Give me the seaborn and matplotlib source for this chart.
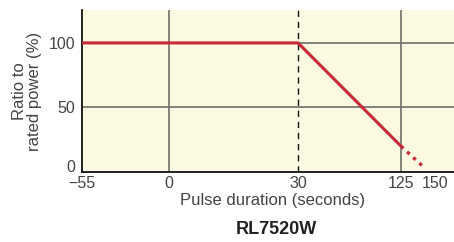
import matplotlib
matplotlib.use("Agg")
import matplotlib.pyplot as plt
import seaborn as sns
import numpy as np
import pandas as pd

# data
pulse = [-55, 30, 125]
ratio = [100, 100, 20]
pulse_ext = [125, 143]
ratio_ext = [20, 2.5]
xticks = [-55, 0, 30, 125, 150]
xticklabels = ['\u221255', '0', '30', '125', '150']
yticks = [0, 50, 100]

# non-linear x axis: tick values and where they sit on the axis
tick_pos = [0, 87, 216, 319, 353, 372]
tick_val = [-55, 0, 30, 125, 150, 164]

sns.set_style("white")
plt.rcParams['font.family'] = ['Liberation Sans', 'DejaVu Sans']

fig = plt.figure(figsize=(4.54, 2.42), dpi=100)
ax = fig.add_axes([82/454, 1 - 172/242, 372/454, 162/242])
ax.set_xscale('function', functions=(lambda x: np.interp(x, tick_val, tick_pos),
                                     lambda p: np.interp(p, tick_pos, tick_val)))
ax.set_facecolor('#FBF9E2')

df = pd.DataFrame({'pulse': pulse, 'ratio': ratio})
df_ext = pd.DataFrame({'pulse': pulse_ext, 'ratio': ratio_ext})

# grid
for v in [0, 125]:
    ax.axvline(v, color='#6E6E6A', lw=1.2, zorder=1)
ax.axvline(30, color='#111111', lw=1, ls=(0, (4.5, 3.5)), zorder=1)
for v in [50, 100]:
    ax.axhline(v, color='#6E6E6A', lw=1.2, zorder=1)

sns.lineplot(data=df, x='pulse', y='ratio', ax=ax, color='#C62A35', lw=2.2, zorder=3)
sns.lineplot(data=df_ext, x='pulse', y='ratio', ax=ax, color='#C62A35', lw=2.4,
             ls=(0, (1, 1.5)), zorder=3)

ax.set_xlim(-55, 164)
ax.set_ylim(0, 125.5)
ax.set_xticks(xticks)
ax.set_xticklabels(xticklabels)
ax.set_yticks(yticks)
ax.tick_params(length=0, labelsize=11.5, colors='#444444')
ax.tick_params(axis='y', pad=5)
ax.tick_params(axis='x', pad=3)
# the "0" on the y axis sits on the baseline
ax.get_yticklabels()[0].set_va('baseline')
for s in ['top', 'right']:
    ax.spines[s].set_visible(False)
for s in ['left', 'bottom']:
    ax.spines[s].set_color('#111111')
    ax.spines[s].set_linewidth(1.3)

ax.set_xlabel('Pulse duration (seconds)', fontsize=12, color='#444444')
ax.xaxis.set_label_coords((273 - 82) / 372, -(201 - 172) / 162)
ax.xaxis.label.set_va('center')
ax.set_ylabel('Ratio to\nrated power (%)', fontsize=12, color='#444444',
              linespacing=0.95)
ax.yaxis.set_label_coords(-(82 - 27) / 372, 0.5)
ax.yaxis.label.set_va('center')

fig.text(276/454, 1 - 230/242, 'RL7520W', ha='center', va='center',
         fontsize=13, fontweight='bold', color='#222222')

fig.savefig('out.png', dpi=100)
